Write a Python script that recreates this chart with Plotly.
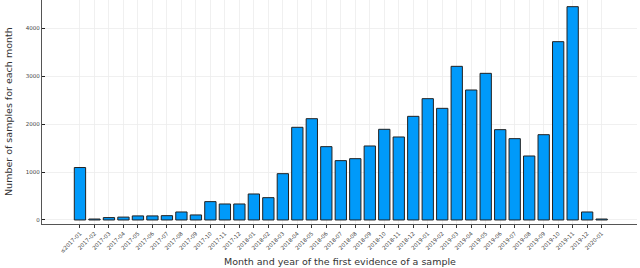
import plotly.graph_objects as go

months = ["≤2017-01", "2017-02", "2017-03", "2017-04", "2017-05", "2017-06", "2017-07",
          "2017-08", "2017-09", "2017-10", "2017-11", "2017-12",
          "2018-01", "2018-02", "2018-03", "2018-04", "2018-05", "2018-06", "2018-07",
          "2018-08", "2018-09", "2018-10", "2018-11", "2018-12",
          "2019-01", "2019-02", "2019-03", "2019-04", "2019-05", "2019-06", "2019-07",
          "2019-08", "2019-09", "2019-10", "2019-11", "2019-12", "2020-01"]
counts = [1095, 20, 50, 60, 85, 85, 90, 167, 105, 383, 334, 334,
          543, 466, 967, 1935, 2115, 1531, 1239, 1280, 1545, 1893, 1733, 2164,
          2533, 2331, 3208, 2714, 3062, 1886, 1698, 1336, 1781, 3723, 4454, 167, 20]
yticks = [0, 1000, 2000, 3000, 4000]

fig = go.Figure(go.Bar(
    x=months, y=counts, width=0.78,
    marker=dict(color="#009AFA", line=dict(color="#222222", width=1)),
))

fig.update_layout(
    width=640, height=268,
    margin=dict(l=42, r=3, t=0, b=44),
    plot_bgcolor="white", paper_bgcolor="white",
    font=dict(family="DejaVu Sans", color="#333333"),
    showlegend=False,
    bargap=0,
)
fig.update_xaxes(
    type="category", range=[-2.62, 38.44],
    tickangle=-45, tickfont=dict(size=5.5, color="#444444"),
    showgrid=True, gridcolor="#ececec", gridwidth=0.8,
    showline=True, linecolor="#555555", linewidth=1.2,
    ticks="outside", ticklen=3, tickcolor="#333333",
    automargin=False,
)
fig.update_yaxes(
    range=[-84, 4593], tickvals=yticks, ticktext=[str(v) for v in yticks],
    tickfont=dict(size=5.5, color="#444444"),
    showgrid=True, gridcolor="#ececec", gridwidth=0.8,
    zeroline=False,
    showline=True, linecolor="#555555", linewidth=1.2,
    ticks="inside", ticklen=3, tickcolor="#222222",
    automargin=False,
)
fig.add_annotation(text="Month and year of the first evidence of a sample",
                   xref="paper", yref="paper", x=0.5, y=0, yanchor="middle",
                   xanchor="center", yshift=-37, showarrow=False,
                   font=dict(size=9.5, color="#333333", family="DejaVu Sans"))
fig.add_annotation(text="Number of samples for each month",
                   xref="paper", yref="paper", x=0, xshift=-34, y=0.5,
                   textangle=-90, showarrow=False, xanchor="center", yanchor="middle",
                   font=dict(size=9.5, color="#333333", family="DejaVu Sans"))

fig.write_html("out.html",
               config={"displayModeBar": False, "staticPlot": True},
               post_script="document.body.style.margin='0';document.body.style.overflow='hidden';")
